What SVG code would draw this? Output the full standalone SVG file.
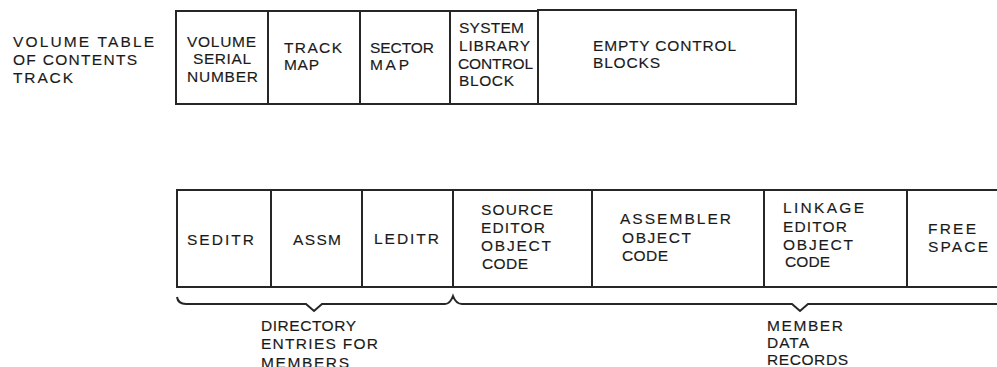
<svg xmlns="http://www.w3.org/2000/svg" width="997" height="367" viewBox="0 0 997 367">
<style>
text{font-family:"Liberation Sans",Arial,sans-serif;font-size:15.5px;fill:#1a1a1a;stroke:#1a1a1a;stroke-width:0.15px}
.box{fill:#fff;stroke:#262626;stroke-width:2}
.ln{fill:none;stroke:#262626;stroke-width:2}
</style>
<rect width="997" height="367" fill="#fff"/>
<g id="vtoc-label">
<text x="13" y="47" textLength="141" lengthAdjust="spacing">VOLUME TABLE</text>
<text x="13" y="65" textLength="124" lengthAdjust="spacing">OF CONTENTS</text>
<text x="13" y="83" textLength="60" lengthAdjust="spacing">TRACK</text>
</g>
<g id="volume-serial">
<rect class="box" x="176" y="11" width="92" height="93"/>
<text x="187" y="47" textLength="69" lengthAdjust="spacing">VOLUME</text>
<text x="193" y="64" textLength="58" lengthAdjust="spacing">SERIAL</text>
<text x="187" y="82" textLength="71" lengthAdjust="spacing">NUMBER</text>
</g>
<g id="track-map">
<rect class="box" x="268" y="11" width="92" height="93"/>
<text x="284" y="53" textLength="58" lengthAdjust="spacing">TRACK</text>
<text x="284" y="70" textLength="35" lengthAdjust="spacing">MAP</text>
</g>
<g id="sector-map">
<rect class="box" x="360" y="11" width="90" height="93"/>
<text x="370" y="53" textLength="64" lengthAdjust="spacing">SECTOR</text>
<text x="370" y="70" textLength="39" lengthAdjust="spacing">MAP</text>
</g>
<g id="slcb">
<rect class="box" x="450" y="11" width="88" height="93"/>
<text x="459" y="33" textLength="65" lengthAdjust="spacing">SYSTEM</text>
<text x="459" y="51" textLength="71" lengthAdjust="spacing">LIBRARY</text>
<text x="458" y="69" textLength="75" lengthAdjust="spacing">CONTROL</text>
<text x="459" y="86" textLength="55" lengthAdjust="spacing">BLOCK</text>
</g>
<g id="empty-cb">
<rect class="box" x="538" y="10" width="258" height="94"/>
<text x="593" y="51" textLength="143" lengthAdjust="spacing">EMPTY CONTROL</text>
<text x="593" y="68" textLength="67" lengthAdjust="spacing">BLOCKS</text>
</g>
<g id="seditr">
<rect class="box" x="177" y="190" width="94" height="97"/>
<text x="187" y="245" textLength="67" lengthAdjust="spacing">SEDITR</text>
</g>
<g id="assm">
<rect class="box" x="271" y="190" width="91" height="97"/>
<text x="293" y="245" textLength="48" lengthAdjust="spacing">ASSM</text>
</g>
<g id="leditr">
<rect class="box" x="362" y="190" width="91" height="97"/>
<text x="374" y="244" textLength="65" lengthAdjust="spacing">LEDITR</text>
</g>
<g id="source-obj">
<rect class="box" x="453" y="190" width="139" height="97"/>
<text x="481" y="215" textLength="72" lengthAdjust="spacing">SOURCE</text>
<text x="481" y="233" textLength="64" lengthAdjust="spacing">EDITOR</text>
<text x="481" y="251" textLength="70" lengthAdjust="spacing">OBJECT</text>
<text x="482" y="269" textLength="46" lengthAdjust="spacing">CODE</text>
</g>
<g id="assm-obj">
<rect class="box" x="592" y="190" width="172" height="97"/>
<text x="620" y="224" textLength="111" lengthAdjust="spacing">ASSEMBLER</text>
<text x="622" y="243" textLength="69" lengthAdjust="spacing">OBJECT</text>
<text x="622" y="261" textLength="46" lengthAdjust="spacing">CODE</text>
</g>
<g id="link-obj">
<rect class="box" x="764" y="190" width="143" height="97"/>
<text x="783" y="213" textLength="81" lengthAdjust="spacing">LINKAGE</text>
<text x="783" y="232" textLength="64" lengthAdjust="spacing">EDITOR</text>
<text x="783" y="250" textLength="70" lengthAdjust="spacing">OBJECT</text>
<text x="785" y="267" textLength="45" lengthAdjust="spacing">CODE</text>
</g>
<g id="free-space">
<path class="ln" d="M907 190 H998 M907 287 H998 M907 190 V287"/>
<text x="928" y="234" textLength="48" lengthAdjust="spacing">FREE</text>
<text x="928" y="252" textLength="60" lengthAdjust="spacing">SPACE</text>
</g>
<g id="connectors">
<path class="ln" d="M177 297 Q178 304 186 304 H306 L314 311 L322 304 H445 Q450 304 453 296 Q456 304 462 304 H792 L800 311 L808 304 H998"/>
</g>
<g id="dir-label">
<text x="261" y="331" textLength="95" lengthAdjust="spacing">DIRECTORY</text>
<text x="261" y="349" textLength="117" lengthAdjust="spacing">ENTRIES FOR</text>
<text x="261" y="368" textLength="88" lengthAdjust="spacing">MEMBERS</text>
</g>
<g id="member-label">
<text x="767" y="331" textLength="76" lengthAdjust="spacing">MEMBER</text>
<text x="767" y="348" textLength="42" lengthAdjust="spacing">DATA</text>
<text x="767" y="365" textLength="81" lengthAdjust="spacing">RECORDS</text>
</g>
</svg>
